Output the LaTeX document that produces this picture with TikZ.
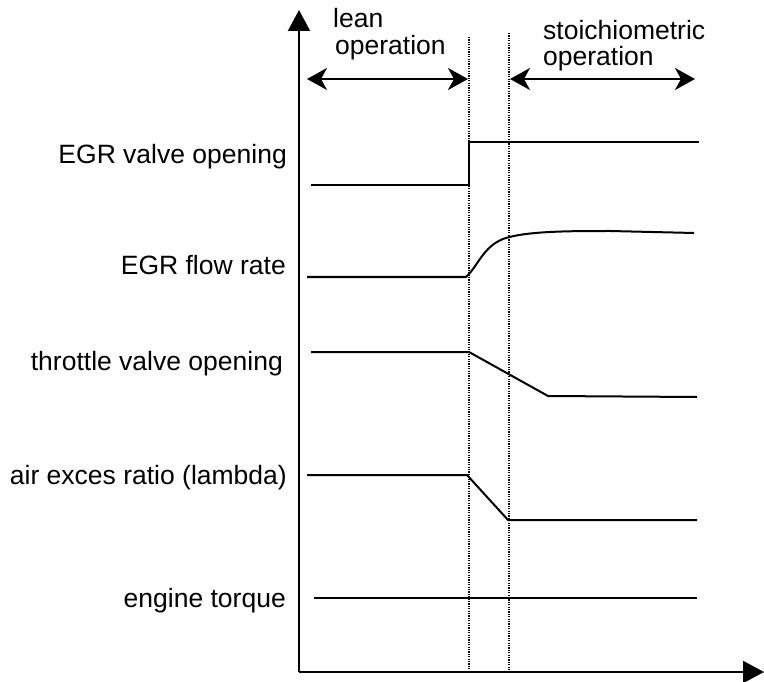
\documentclass[tikz,border=0pt]{standalone}
\usepackage{fontspec}
\setmainfont{Liberation Sans}
\usetikzlibrary{arrows.meta}

\begin{document}
\begin{tikzpicture}[x=1pt, y=-1pt,
  axis/.style={line width=2pt, -{Triangle[length=21pt,width=22pt]}},
  signal/.style={line width=2pt},
  switchline/.style={line width=1.2pt, dash pattern=on 1.2pt off 1.2pt},
  span/.style={line width=2pt, {Stealth[length=20pt,width=22pt,inset=6pt]}-{Stealth[length=20pt,width=22pt,inset=6pt]}},
  lbl/.style={inner sep=0pt, font=\fontsize{26.5}{30}\selectfont}]
  \useasboundingbox (0,0) rectangle (764,682);
  % axes
  \coordinate (o) at (299,672);
  \coordinate (ytop) at (299,10);
  \coordinate (xend) at (764,672);
  \draw[axis] (o) -- (ytop);
  \draw[axis] (o) -- (xend);
  % switching instants
  \draw[switchline] (469,37) -- (469,672);
  \draw[switchline] (509,33) -- (509,672);
  % operating modes
  \node[lbl, anchor=base west] (lean) at (333,28) {lean};
  \node[lbl, anchor=base west] (leanop) at (335,55) {operation};
  \node[lbl, anchor=base west] (stoich) at (543,40) {stoichiometric};
  \node[lbl, anchor=base west] (stoichop) at (543,66) {operation};
  \draw[span] (307,79) -- (468,79);
  \draw[span] (510,79) -- (695,79);
  % signal names
  \node[lbl, anchor=base east] (egrvalve) at (287,164) {EGR valve opening};
  \node[lbl, anchor=base east] (egrflow) at (286,275) {EGR flow rate};
  \node[lbl, anchor=base east] (throttle) at (283,370) {throttle valve opening};
  \node[lbl, anchor=base east] (lambda) at (287,484) {air exces ratio (lambda)};
  \node[lbl, anchor=base east] (torque) at (286,607) {engine torque};
  % signal traces
  \draw[signal] (311,185) -- (469,185) -- (469,142) -- (699,142);
  \draw[signal] (307,277) -- (466,277) .. controls (478,266) and (483,247) .. (503,239)
    .. controls (525,231) and (570,231) .. (610,231) -- (694,233);
  \draw[signal] (311,352) -- (469,352) -- (548,396) -- (697,397);
  \draw[signal] (307,475) -- (467,475) -- (508,520) -- (697,520);
  \draw[signal] (314,598) -- (697,598);
\end{tikzpicture}
\end{document}
